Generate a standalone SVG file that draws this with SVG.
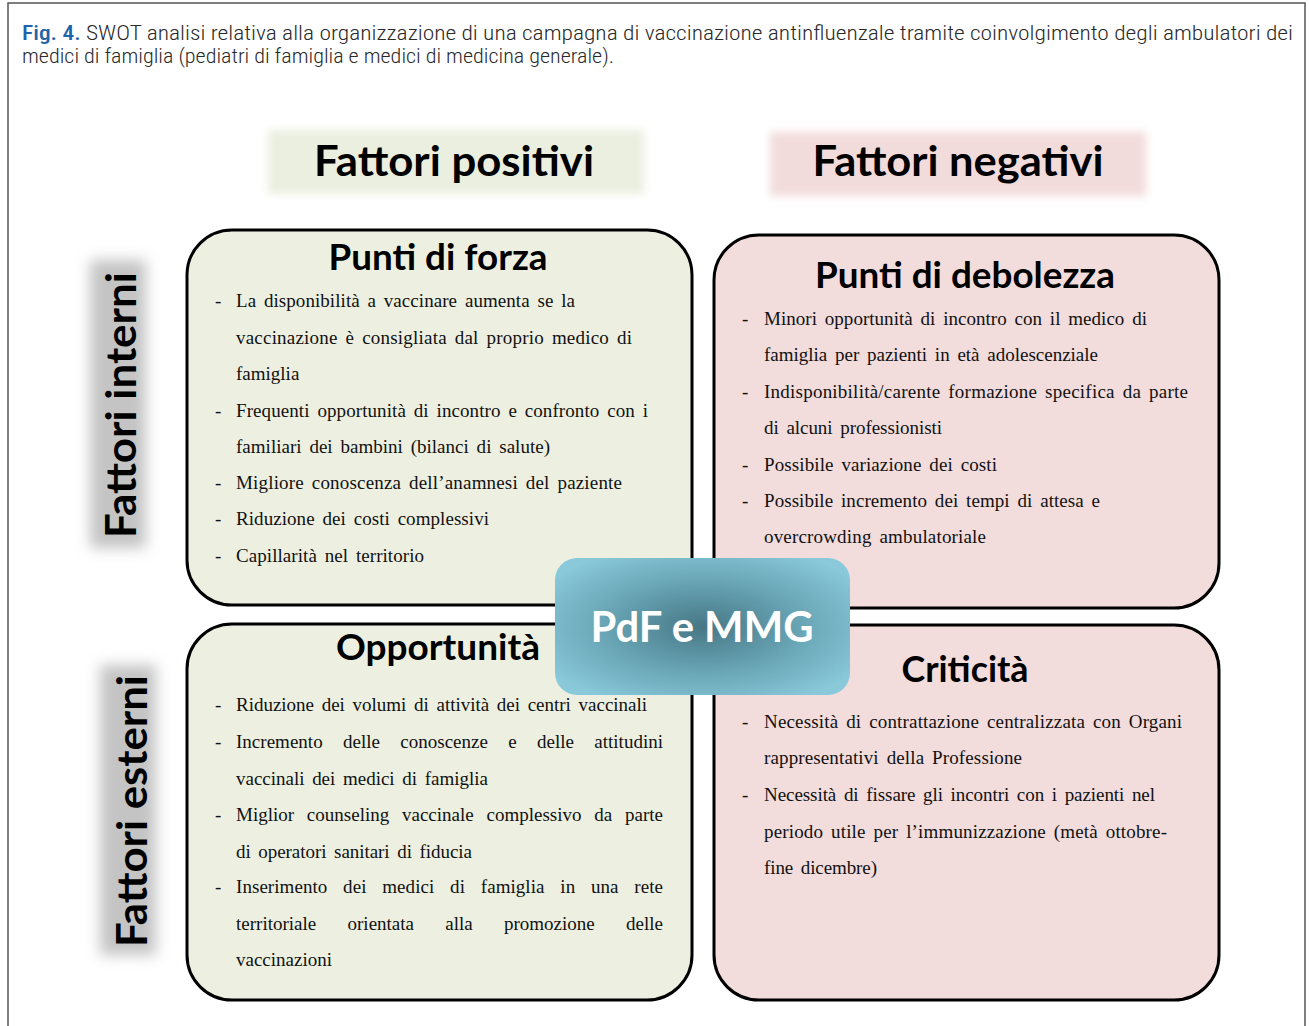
<svg xmlns="http://www.w3.org/2000/svg" width="1309" height="1026" viewBox="0 0 1309 1026">
  <defs>
    <filter id="soft" x="-20%" y="-20%" width="140%" height="140%">
      <feGaussianBlur stdDeviation="4"/>
    </filter>
    <filter id="softer" x="-40%" y="-10%" width="180%" height="120%">
      <feGaussianBlur stdDeviation="7"/>
    </filter>
    <radialGradient id="hub" cx="0.5" cy="0.5" r="0.62">
      <stop offset="0" stop-color="#477785"/>
      <stop offset="0.5" stop-color="#66a2b2"/>
      <stop offset="1" stop-color="#89c9da"/>
    </radialGradient>
    <style>
      .cap { font-family: "Liberation Sans Narrow", "Roboto Condensed", Roboto, "Liberation Sans", sans-serif; font-size: 20px; font-weight: 300; fill: #2a2a2a; }
      .fig { fill: #1f63a8; font-weight: 500; }
      .band { font-family: Lato, "Open Sans", sans-serif; font-weight: bold; font-size: 42px; fill: #000; text-anchor: middle; }
      .head { font-family: Lato, "Open Sans", sans-serif; font-weight: bold; font-size: 36px; fill: #000; text-anchor: middle; }
      .body { font-family: "Liberation Serif", "Times New Roman", serif; font-size: 19px; fill: #111; word-spacing: 3px; }
      .quad { stroke: #000; stroke-width: 3; }
      .pos { fill: #edf0e1; }
      .neg { fill: #f2dcdc; }
    </style>
  </defs>

  <!-- page frame -->
  <rect x="8" y="3" width="1297" height="1060" fill="#fff" stroke="#555" stroke-width="1.5"/>

  <!-- caption -->
  <text class="cap" x="22" y="40" textLength="1271" lengthAdjust="spacingAndGlyphs"><tspan class="fig">Fig. 4.</tspan> SWOT analisi relativa alla organizzazione di una campagna di vaccinazione antinfluenzale tramite coinvolgimento degli ambulatori dei</text>
  <text class="cap" x="22" y="63" textLength="592" lengthAdjust="spacingAndGlyphs">medici di famiglia (pediatri di famiglia e medici di medicina generale).</text>

  <!-- column headers -->
  <g id="col-positive">
    <rect x="268" y="130" width="376" height="64" fill="#ebefdf" filter="url(#soft)"/>
    <text class="band" x="454" y="176" textLength="280" lengthAdjust="spacingAndGlyphs">Fattori positivi</text>
  </g>
  <g id="col-negative">
    <rect x="770" y="132" width="376" height="64" fill="#f2dbdb" filter="url(#soft)"/>
    <text class="band" x="958" y="176" textLength="291" lengthAdjust="spacingAndGlyphs">Fattori negativi</text>
  </g>

  <!-- row headers -->
  <g id="row-internal">
    <rect x="90" y="260" width="56" height="288" fill="#c4c4c4" filter="url(#softer)"/>
    <text class="band" transform="translate(136,405) rotate(-90)" textLength="266" lengthAdjust="spacingAndGlyphs">Fattori interni</text>
  </g>
  <g id="row-external">
    <rect x="100" y="665" width="56" height="290" fill="#c4c4c4" filter="url(#softer)"/>
    <text class="band" transform="translate(147,811) rotate(-90)" textLength="272" lengthAdjust="spacingAndGlyphs">Fattori esterni</text>
  </g>

  <!-- strengths -->
  <g id="strengths">
    <rect class="quad pos" x="187" y="230" width="505" height="375" rx="45"/>
    <text class="head" x="438" y="270" textLength="219" lengthAdjust="spacingAndGlyphs">Punti di forza</text>
    <g class="body">
      <text x="215" y="307">-</text>
      <text x="236" y="307" textLength="339">La disponibilità a vaccinare aumenta se la</text>
      <text x="236" y="344" textLength="396">vaccinazione è consigliata dal proprio medico di</text>
      <text x="236" y="380">famiglia</text>
      <text x="215" y="417">-</text>
      <text x="236" y="417" textLength="412">Frequenti opportunità di incontro e confronto con i</text>
      <text x="236" y="453" textLength="314">familiari dei bambini (bilanci di salute)</text>
      <text x="215" y="489">-</text>
      <text x="236" y="489" textLength="386">Migliore conoscenza dell’anamnesi del paziente</text>
      <text x="215" y="525">-</text>
      <text x="236" y="525" textLength="253">Riduzione dei costi complessivi</text>
      <text x="215" y="562">-</text>
      <text x="236" y="562" textLength="188">Capillarità nel territorio</text>
    </g>
  </g>

  <!-- weaknesses -->
  <g id="weaknesses">
    <rect class="quad neg" x="714" y="235" width="505" height="373" rx="45"/>
    <text class="head" x="965" y="288" textLength="300" lengthAdjust="spacingAndGlyphs">Punti di debolezza</text>
    <g class="body">
      <text x="742" y="325">-</text>
      <text x="764" y="325" textLength="383">Minori opportunità di incontro con il medico di</text>
      <text x="764" y="361" textLength="334">famiglia per pazienti in età adolescenziale</text>
      <text x="742" y="398">-</text>
      <text x="764" y="398" textLength="424">Indisponibilità/carente formazione specifica da parte</text>
      <text x="764" y="434" textLength="178">di alcuni professionisti</text>
      <text x="742" y="471">-</text>
      <text x="764" y="471" textLength="233">Possibile variazione dei costi</text>
      <text x="742" y="507">-</text>
      <text x="764" y="507" textLength="336">Possibile incremento dei tempi di attesa e</text>
      <text x="764" y="543" textLength="222">overcrowding ambulatoriale</text>
    </g>
  </g>

  <!-- opportunities -->
  <g id="opportunities">
    <rect class="quad pos" x="187" y="624" width="505" height="376" rx="45"/>
    <text class="head" x="438" y="660" textLength="204" lengthAdjust="spacingAndGlyphs">Opportunità</text>
    <g class="body">
      <text x="215" y="711">-</text>
      <text x="236" y="711" textLength="411">Riduzione dei volumi di attività dei centri vaccinali</text>
      <text x="215" y="748">-</text>
      <text x="236" y="748" textLength="427" style="word-spacing:15.5px">Incremento delle conoscenze e delle attitudini</text>
      <text x="236" y="785" textLength="252">vaccinali dei medici di famiglia</text>
      <text x="215" y="821">-</text>
      <text x="236" y="821" textLength="427" style="word-spacing:8px">Miglior counseling vaccinale complessivo da parte</text>
      <text x="236" y="858" textLength="236">di operatori sanitari di fiducia</text>
      <text x="215" y="893">-</text>
      <text x="236" y="893" textLength="427" style="word-spacing:11px">Inserimento dei medici di famiglia in una rete</text>
      <text x="236" y="930" textLength="427" style="word-spacing:26.5px">territoriale orientata alla promozione delle</text>
      <text x="236" y="966">vaccinazioni</text>
    </g>
  </g>

  <!-- threats -->
  <g id="threats">
    <rect class="quad neg" x="714" y="625" width="505" height="375" rx="45"/>
    <text class="head" x="965" y="682" textLength="127" lengthAdjust="spacingAndGlyphs">Criticità</text>
    <g class="body">
      <text x="742" y="728">-</text>
      <text x="764" y="728" textLength="418">Necessità di contrattazione centralizzata con Organi</text>
      <text x="764" y="764" textLength="258">rappresentativi della Professione</text>
      <text x="742" y="801">-</text>
      <text x="764" y="801" textLength="391">Necessità di fissare gli incontri con i pazienti nel</text>
      <text x="764" y="838" textLength="403">periodo utile per l’immunizzazione (metà ottobre-</text>
      <text x="764" y="874" textLength="113">fine dicembre)</text>
    </g>
  </g>

  <!-- centre label -->
  <g id="hub-node">
    <rect x="555" y="558" width="295" height="137" rx="22" fill="url(#hub)"/>
    <text class="band" x="702" y="642" style="fill:#fff" textLength="223" lengthAdjust="spacingAndGlyphs">PdF e MMG</text>
  </g>
</svg>
